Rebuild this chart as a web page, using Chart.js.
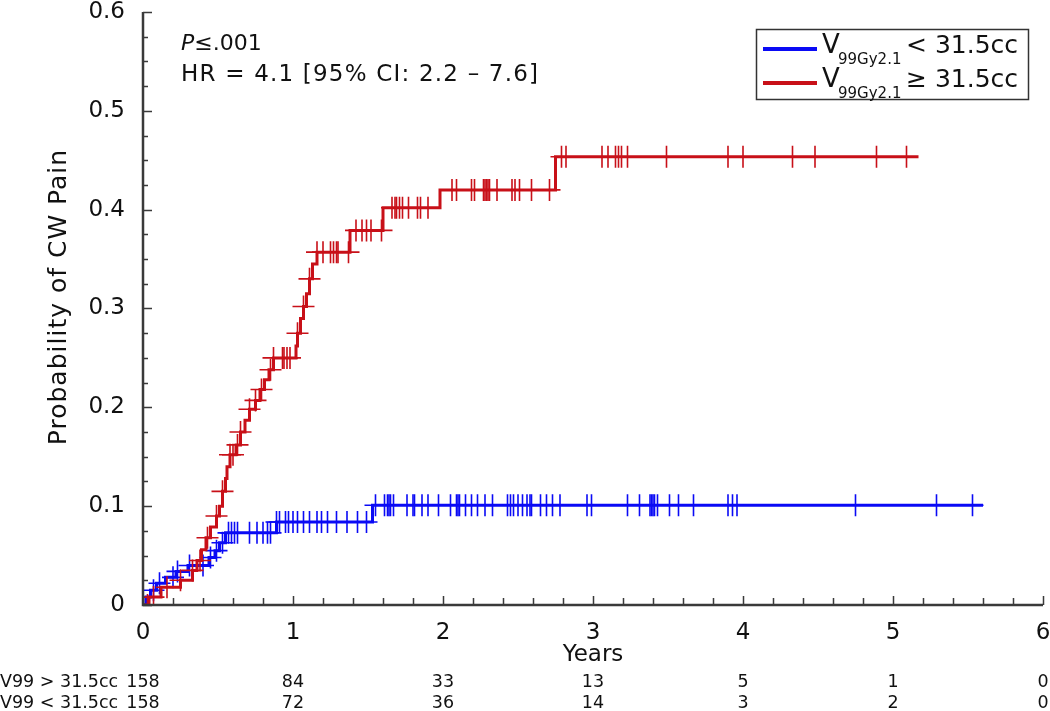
<!DOCTYPE html>
<html>
<head>
<meta charset="utf-8">
<script src="https://cdn.jsdelivr.net/npm/chart.js@4"></script>
<style>
  body { margin: 0; background: #fff; }
  canvas { display: block; }
</style>
</head>
<body>
<canvas id="kmChart" width="1050" height="711"></canvas>
<script>
// Step curves: time (years) -> cumulative probability
const highTimes = [0, 0.04, 0.12, 0.25, 0.33, 0.36, 0.39, 0.42, 0.45, 0.49, 0.51, 0.53, 0.55, 0.56, 0.58, 0.62, 0.65, 0.68, 0.71, 0.75, 0.78, 0.81, 0.84, 0.87, 1.02, 1.03, 1.05, 1.07, 1.09, 1.11, 1.13, 1.16, 1.38, 1.6, 1.98, 2.75, 5.17];
const highProb  = [0, 0.008, 0.018, 0.025, 0.035, 0.045, 0.056, 0.068, 0.079, 0.09, 0.1, 0.115, 0.128, 0.14, 0.152, 0.162, 0.175, 0.187, 0.198, 0.207, 0.218, 0.228, 0.238, 0.25, 0.262, 0.275, 0.29, 0.302, 0.315, 0.33, 0.345, 0.357, 0.379, 0.402, 0.42, 0.4535, 0.4535];

const lowTimes = [0, 0.02, 0.05, 0.09, 0.15, 0.22, 0.3, 0.44, 0.48, 0.51, 0.55, 0.89, 1.53, 5.6];
const lowProb  = [0, 0.008, 0.015, 0.022, 0.028, 0.034, 0.04, 0.048, 0.055, 0.063, 0.073, 0.084, 0.101, 0.101];

// Censoring times (tick marks)
const highCensor = [0, 0.03, 0.07, 0.16, 0.25, 0.33, 0.38, 0.43, 0.49, 0.53, 0.58, 0.6, 0.63, 0.65, 0.71, 0.75, 0.79, 0.85, 0.87, 0.93, 0.94, 0.96, 0.98, 1.03, 1.07, 1.11, 1.16, 1.2, 1.25, 1.27, 1.29, 1.3, 1.37, 1.42, 1.46, 1.49, 1.52, 1.59, 1.66, 1.68, 1.69, 1.71, 1.73, 1.77, 1.83, 1.85, 1.9, 2.06, 2.09, 2.19, 2.21, 2.27, 2.28, 2.29, 2.3, 2.31, 2.36, 2.46, 2.48, 2.51, 2.59, 2.71, 2.79, 2.82, 3.06, 3.1, 3.15, 3.17, 3.19, 3.23, 3.49, 3.9, 4.0, 4.33, 4.48, 4.89, 5.09];
const lowCensor = [0.07, 0.11, 0.2, 0.23, 0.31, 0.4, 0.45, 0.49, 0.53, 0.57, 0.59, 0.61, 0.63, 0.71, 0.76, 0.8, 0.83, 0.85, 0.89, 0.91, 0.95, 0.97, 1.0, 1.03, 1.07, 1.11, 1.16, 1.19, 1.23, 1.29, 1.36, 1.43, 1.49, 1.55, 1.61, 1.63, 1.64, 1.65, 1.67, 1.76, 1.8, 1.81, 1.86, 1.9, 1.97, 2.05, 2.09, 2.1, 2.11, 2.15, 2.19, 2.23, 2.28, 2.33, 2.43, 2.45, 2.47, 2.5, 2.53, 2.56, 2.58, 2.59, 2.65, 2.69, 2.73, 2.78, 2.96, 2.99, 3.23, 3.31, 3.38, 3.39, 3.4, 3.41, 3.43, 3.51, 3.57, 3.67, 3.9, 3.93, 3.96, 4.75, 5.29, 5.53];

// Number at risk table
const riskYears = [0, 1, 2, 3, 4, 5, 6];
const riskHigh = [158, 84, 33, 13, 5, 1, 0];
const riskLow  = [158, 72, 36, 14, 3, 2, 0];
const riskLabels = ['V99 > 31.5cc', 'V99 < 31.5cc'];

const RED = '#c81018';
const BLUE = '#0a0af5';
const FONT = "'DejaVu Sans', sans-serif";

// level of a step curve at time t
function levelAt(times, probs, t) {
    let v = probs[0];
    for (let i = 0; i < times.length; i++) {
        if (times[i] <= t) v = probs[i];
    }
    return v;
}

const toPoints = (xs, ys) => xs.map((x, i) => ({ x: x, y: ys[i] }));
const censorPoints = (cs, times, probs) => cs.map(t => ({ x: t, y: levelAt(times, probs, t) }));

// Axis lines with inward major/minor ticks
const axisPlugin = {
    id: 'axisLines',
    afterDatasetsDraw(chart) {
        const { ctx, chartArea, scales: { x, y } } = chart;
        ctx.save();
        ctx.strokeStyle = '#3a3a3a';
        ctx.lineWidth = 2.5;
        ctx.beginPath();
        ctx.moveTo(chartArea.left, y.getPixelForValue(0.6));
        ctx.lineTo(chartArea.left, chartArea.bottom);
        ctx.lineTo(x.getPixelForValue(6), chartArea.bottom);
        ctx.stroke();
        ctx.lineWidth = 1.5;
        ctx.beginPath();
        for (let i = 0; i <= 24; i++) {
            const py = Math.round(y.getPixelForValue(i * 0.025)) + 0.5;
            const len = i % 4 === 0 ? 9 : 5;
            ctx.moveTo(chartArea.left, py);
            ctx.lineTo(chartArea.left + len, py);
        }
        for (let i = 0; i <= 30; i++) {
            const px = Math.round(x.getPixelForValue(i * 0.2)) + 0.5;
            const len = i % 5 === 0 ? 9 : 7;
            ctx.moveTo(px, chartArea.bottom);
            ctx.lineTo(px, chartArea.bottom - len);
        }
        ctx.stroke();
        ctx.restore();
    }
};

// Stats text, y title, legend with subscripts, number-at-risk rows
const textPlugin = {
    id: 'textBits',
    afterDraw(chart) {
        const { ctx, scales: { x } } = chart;
        ctx.save();
        ctx.fillStyle = '#111';
        ctx.textBaseline = 'alphabetic';
        ctx.textAlign = 'left';

        ctx.font = 'italic 22px ' + FONT;
        ctx.fillText('P', 181, 50);
        const pw = ctx.measureText('P').width;
        ctx.font = '22px ' + FONT;
        ctx.fillText('\u2264.001', 181 + pw, 50);
        ctx.font = '23px ' + FONT;
        ctx.letterSpacing = '1.2px';
        ctx.fillText('HR = 4.1 [95% CI: 2.2 \u2013 7.6]', 181, 81);
        ctx.letterSpacing = '0px';

        // y axis title
        ctx.save();
        ctx.translate(66, 297);
        ctx.rotate(-Math.PI / 2);
        ctx.textAlign = 'center';
        ctx.font = '25px ' + FONT;
        ctx.letterSpacing = '1px';
        ctx.fillText('Probability of CW Pain', 0, 0);
        ctx.restore();

        // legend
        ctx.strokeStyle = '#333';
        ctx.lineWidth = 1.5;
        ctx.strokeRect(756.5, 29.5, 272, 70);
        const rows = [
            { color: BLUE, sign: '< 31.5cc', y: 53 },
            { color: RED, sign: '\u2265 31.5cc', y: 87 }
        ];
        rows.forEach(r => {
            ctx.strokeStyle = r.color;
            ctx.lineWidth = 4;
            ctx.beginPath();
            ctx.moveTo(763, r.y - 4);
            ctx.lineTo(817, r.y - 4);
            ctx.stroke();
            ctx.fillStyle = '#111';
            ctx.font = '26px ' + FONT;
            ctx.fillText('V', 822, r.y);
            ctx.font = '15px ' + FONT;
            ctx.fillText('99Gy2.1', 838, r.y + 11);
            ctx.font = '25px ' + FONT;
            ctx.fillText(r.sign, 906, r.y);
        });

        // number at risk
        ctx.font = '17.5px ' + FONT;
        ctx.fillStyle = '#111';
        const rowY = [687, 708];
        [riskHigh, riskLow].forEach((vals, r) => {
            ctx.textAlign = 'left';
            ctx.fillText(riskLabels[r], 0, rowY[r]);
            ctx.textAlign = 'center';
            vals.forEach((v, i) => {
                let px = x.getPixelForValue(riskYears[i]);
                const w = ctx.measureText(String(v)).width;
                if (px + w / 2 > chart.width) px = chart.width - w / 2;
                ctx.fillText(String(v), px, rowY[r]);
            });
        });
        ctx.restore();
    }
};

const crossStyle = {
    type: 'scatter',
    pointStyle: 'cross',
    pointRadius: 11,
    pointBorderWidth: 1.6,
    showLine: false
};

new Chart(document.getElementById('kmChart'), {
    type: 'line',
    data: {
        datasets: [
            Object.assign({ data: censorPoints(highCensor, highTimes, highProb), borderColor: RED, backgroundColor: RED }, crossStyle),
            {
                data: toPoints(highTimes, highProb),
                borderColor: RED,
                borderWidth: 3,
                stepped: true,
                pointRadius: 0,
                fill: false
            },
            Object.assign({ data: censorPoints(lowCensor, lowTimes, lowProb), borderColor: BLUE, backgroundColor: BLUE }, crossStyle),
            {
                data: toPoints(lowTimes, lowProb),
                borderColor: BLUE,
                borderWidth: 3,
                stepped: true,
                pointRadius: 0,
                fill: false
            }
        ]
    },
    options: {
        responsive: false,
        animation: false,
        events: [],
        layout: { autoPadding: false, padding: { left: 0, top: 12, right: 7, bottom: 0 } },
        plugins: { legend: { display: false }, tooltip: { enabled: false } },
        scales: {
            x: {
                type: 'linear',
                min: 0,
                max: 6,
                grid: { display: false, drawTicks: false },
                border: { display: false },
                ticks: { stepSize: 1, padding: 14, color: '#111', font: { family: FONT, size: 23 } },
                title: { display: true, text: 'Years', color: '#111', font: { family: FONT, size: 23 }, padding: { top: 0, bottom: 42 } },
                afterFit(scale) {
                    scale.height = 106;
                    scale.paddingLeft = 0;
                    scale.paddingRight = 0;
                }
            },
            y: {
                min: 0,
                max: 0.6,
                grid: { display: false, drawTicks: false },
                border: { display: false },
                ticks: {
                    stepSize: 0.1,
                    padding: 18,
                    color: '#111',
                    font: { family: FONT, size: 23 },
                    callback: v => (v === 0 ? '0' : v.toFixed(1))
                },
                afterFit(scale) {
                    scale.width = 143;
                    scale.paddingTop = 0;
                    scale.paddingBottom = 0;
                }
            }
        }
    },
    plugins: [axisPlugin, textPlugin]
});
</script>
</body>
</html>
